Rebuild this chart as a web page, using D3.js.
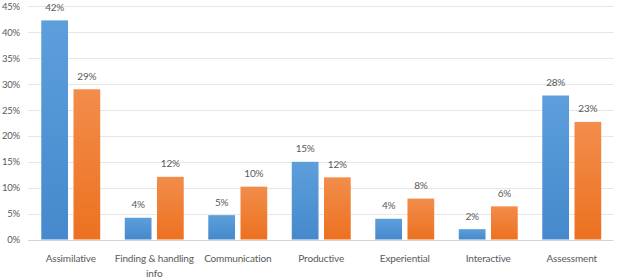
<!DOCTYPE html>
<html><head><meta charset="utf-8">
<script src="https://cdn.jsdelivr.net/npm/d3@7"></script>
<style>body{margin:0;background:#fff}svg{display:block}text{font-family:Lato,"Open Sans",sans-serif}</style>
</head><body><svg id="c" width="628" height="280"></svg>
<script>
const categories = ["Assimilative", "Finding & handling info", "Communication", "Productive", "Experiential", "Interactive", "Assessment"];
const series1 = [42.3, 4.2, 4.7, 15.0, 4.0, 2.0, 27.8];
const series2 = [29.0, 12.1, 10.2, 12.0, 7.9, 6.4, 22.7];
const seriesNames = ["s1", "s2"];
const yTicks = [0, 5, 10, 15, 20, 25, 30, 35, 40, 45];

(function () {
const svg = d3.select("#c");
const defs = svg.append("defs");
const grads = [["gb", "#5d9fdc", "#4689cc"], ["go", "#f28d4b", "#ec7120"]];
grads.forEach(([id, a, b]) => {
  const g = defs.append("linearGradient").attr("id", id).attr("x1", 0).attr("y1", 0).attr("x2", 0).attr("y2", 1);
  g.append("stop").attr("offset", "0%").attr("stop-color", a);
  g.append("stop").attr("offset", "100%").attr("stop-color", b);
});

const mLeft = 29, mRight = 613.5, mTop = 6.4, mBottom = 239.5;
const y = d3.scaleLinear().domain([0, 45]).range([mBottom, mTop]);
const x0 = d3.scaleBand().domain(categories).range([mLeft, mRight]).padding(0);
const bw = x0.bandwidth();
const x1 = d3.scaleBand().domain(seriesNames).range([bw * 0.147, bw * 0.853]).paddingInner(0.17);

// grid
svg.append("g").selectAll("line").data(yTicks).join("line")
  .attr("x1", mLeft - 1).attr("x2", mRight)
  .attr("y1", d => Math.round(y(d)) + 0.5).attr("y2", d => Math.round(y(d)) + 0.5)
  .attr("stroke", d => d === 0 ? "#d4d4d4" : "#e6e6e6").attr("stroke-width", 1);

// y axis labels
const yAxis = d3.axisLeft(y).tickValues(yTicks).tickFormat(d => d + "%").tickSize(0).tickPadding(0);
const ya = svg.append("g").attr("transform", "translate(20,0)").call(yAxis);
ya.select(".domain").remove();
ya.selectAll("text").attr("fill", "#595959").attr("font-size", 9.5)
  .style("font-family", "Lato,'Open Sans',sans-serif").style("letter-spacing", "-0.2px");

// bars
const data = categories.map((c, i) => ({c, vals: [{k: "s1", v: series1[i]}, {k: "s2", v: series2[i]}]}));
const groups = svg.append("g").selectAll("g").data(data).join("g")
  .attr("transform", d => `translate(${x0(d.c)},0)`);
groups.selectAll("rect").data(d => d.vals).join("rect")
  .attr("x", d => x1(d.k)).attr("width", x1.bandwidth())
  .attr("y", d => y(d.v)).attr("height", d => y(0) - y(d.v))
  .attr("fill", d => d.k === "s1" ? "url(#gb)" : "url(#go)");
groups.selectAll("text.v").data(d => d.vals).join("text").attr("class", "v")
  .attr("x", d => x1(d.k) + x1.bandwidth() / 2).attr("y", d => y(d.v) - 9.5)
  .attr("text-anchor", "middle").attr("fill", "#595959").attr("font-size", 10)
  .style("letter-spacing", "-0.2px")
  .text(d => Math.round(d.v) + "%");

// x labels
const xl = svg.append("g").selectAll("text").data(categories).join("text")
  .attr("x", d => x0(d) + bw / 2).attr("y", 262)
  .attr("text-anchor", "middle").attr("fill", "#595959").attr("font-size", 10)
  .style("letter-spacing", "-0.15px");
xl.each(function(d) {
  const t = d3.select(this);
  if (d === "Finding & handling info") {
    t.append("tspan").attr("x", x0(d) + bw / 2).attr("dy", 0).text("Finding & handling");
    t.append("tspan").attr("x", x0(d) + bw / 2).attr("dy", 14.5).text("info");
  } else t.text(d);
});
})();
</script></body></html>
